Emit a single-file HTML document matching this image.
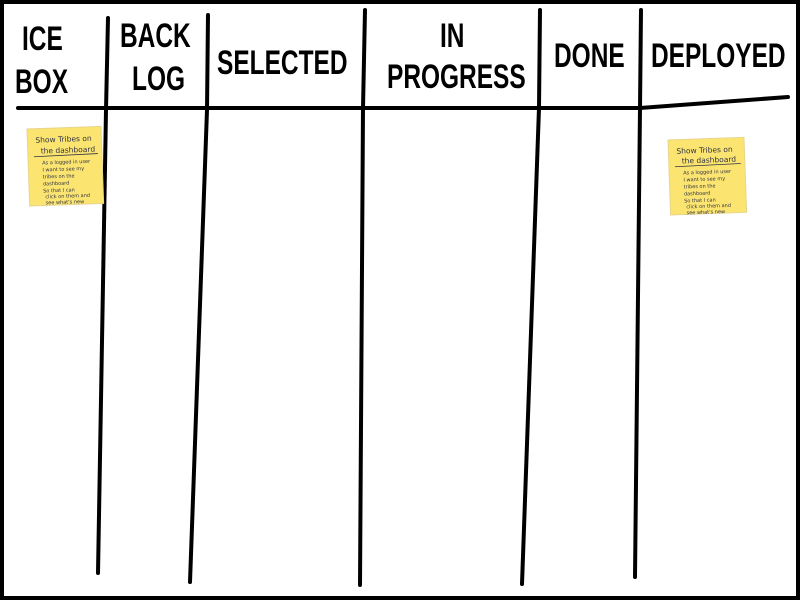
<!DOCTYPE html>
<html><head><meta charset="utf-8"><style>
html,body{margin:0;padding:0;background:#fff}
svg{display:block}
.h{font-family:"Liberation Sans",sans-serif;font-weight:bold;font-size:34px;fill:#000}
.n{font-family:"DejaVu Sans","Liberation Sans",sans-serif;fill:#334}
</style></head><body>
<svg width="800" height="600" viewBox="0 0 800 600">
<rect x="2" y="2" width="796" height="596" fill="#fff" stroke="#000" stroke-width="4"/>
<g fill="none" stroke="#000" stroke-width="4" stroke-linecap="round">
<path d="M18 108 L640 108 Q720 102 788 97"/>
<path d="M108 18 L106 110 L98 573"/>
<path d="M208 15 L207 110 L190 582"/>
<path d="M365 10 L363 108 L360 585"/>
<path d="M540 10 L539 108 L522 584"/>
<path d="M641 10 L640 108 L635 577"/>
</g>
<g class="h">
<text transform="translate(22,50) scale(0.72,1)">ICE</text>
<text transform="translate(15,93) scale(0.72,1)">BOX</text>
<text transform="translate(120,47) scale(0.72,1)">BACK</text>
<text transform="translate(132,90) scale(0.72,1)">LOG</text>
<text transform="translate(217,74) scale(0.72,1)">SELECTED</text>
<text transform="translate(440,47) scale(0.72,1)">IN</text>
<text transform="translate(387,88) scale(0.72,1)">PROGRESS</text>
<text transform="translate(554,67) scale(0.72,1)">DONE</text>
<text transform="translate(651,67) scale(0.72,1)">DEPLOYED</text>
</g>
<g transform="translate(27,129) rotate(-2)">
<rect width="74" height="77" fill="#fbe570" stroke="#e8d58a" stroke-width="1"/>
<text class="n" x="8" y="14" font-size="7.5">Show Tribes on</text>
<text class="n" x="13" y="25" font-size="7.5">the dashboard</text>
<line x1="6" y1="28" x2="70" y2="27" stroke="#334" stroke-width="0.8"/>
<text class="n" x="14" y="36" font-size="5">As a logged in user</text>
<text class="n" x="14" y="43" font-size="5">I want to see my</text>
<text class="n" x="14" y="50" font-size="5">tribes on the</text>
<text class="n" x="14" y="57" font-size="5">dashboard</text>
<text class="n" x="14" y="64" font-size="5">So that I can</text>
<text class="n" x="16" y="70" font-size="5">click on them and</text>
<text class="n" x="16" y="76" font-size="5">see what's new</text>
</g>
<g transform="translate(668,140) rotate(-2)">
<rect width="76" height="75" fill="#fbe570" stroke="#e8d58a" stroke-width="1"/>
<text class="n" x="8" y="14" font-size="7.5">Show Tribes on</text>
<text class="n" x="13" y="24" font-size="7.5">the dashboard</text>
<line x1="6" y1="27" x2="72" y2="26" stroke="#334" stroke-width="0.8"/>
<text class="n" x="14" y="35" font-size="5">As a logged in user</text>
<text class="n" x="14" y="42" font-size="5">I want to see my</text>
<text class="n" x="14" y="49" font-size="5">tribes on the</text>
<text class="n" x="14" y="56" font-size="5">dashboard</text>
<text class="n" x="14" y="63" font-size="5">So that I can</text>
<text class="n" x="16" y="69" font-size="5">click on them and</text>
<text class="n" x="16" y="75" font-size="5">see what's new</text>
</g>
</svg>
</body></html>
